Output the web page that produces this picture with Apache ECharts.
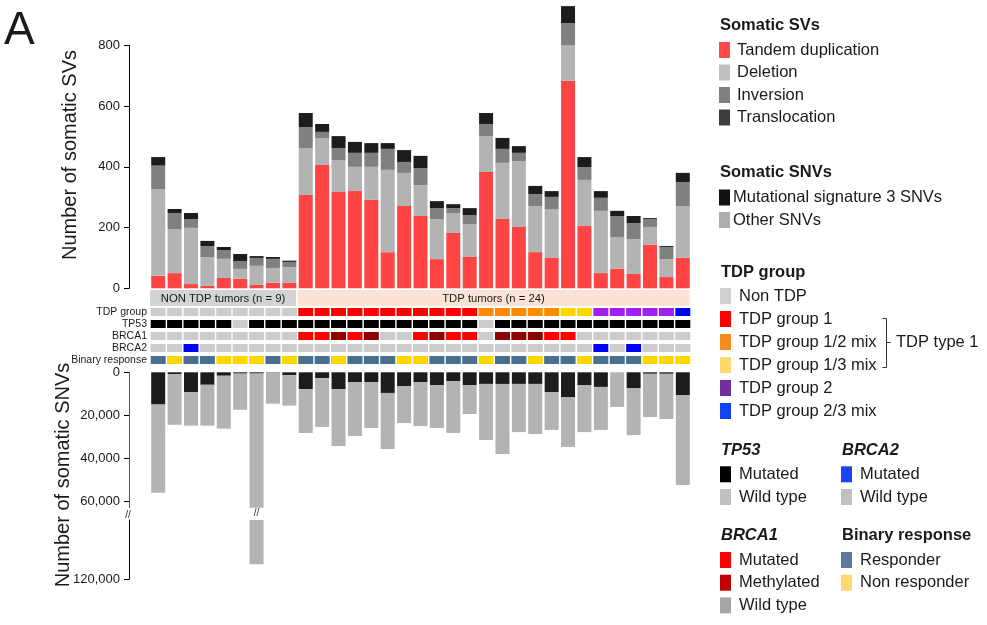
<!DOCTYPE html>
<html><head><meta charset="utf-8">
<script src="https://cdn.jsdelivr.net/npm/echarts@6/dist/echarts.min.js"></script>
<style>html,body{margin:0;padding:0;background:#fff}#c{width:987px;height:625px}</style>
</head><body><div id="c"></div>
<script>
// ---------- DATA ----------
const samples = ['P1','P2','P3','P4','P5','P6','P7','P8','P9','P10','P11','P12','P13','P14','P15','P16','P17','P18','P19','P20','P21','P22','P23','P24','P25','P26','P27','P28','P29','P30','P31','P32','P33'];

// Somatic SVs (counts)
const tandemDup     = [41,50,14,8,34,31,11,18,18,307,406,317,320,291,119,271,238,96,182,103,383,228,202,119,100,683,205,50,64,47,143,37,100];
const deletion      = [286,145,185,95,63,33,63,49,52,155,89,105,80,109,271,109,102,132,66,108,118,185,217,152,161,118,152,205,105,115,59,59,171];
const inversion     = [77,53,29,36,29,26,26,30,17,69,20,40,46,46,69,36,56,36,16,30,40,46,27,39,40,72,42,43,69,53,26,40,79];
const translocation = [28,13,20,17,10,23,6,6,4,46,26,39,36,32,19,39,40,23,13,23,36,36,22,27,19,56,33,22,17,23,3,3,30];

// Somatic SNVs (counts)
const snvSig3  = [15000,800,9200,5800,1600,600,600,200,1300,7800,2700,7800,4500,4500,9600,6400,4500,5900,4100,5900,5400,5400,5400,5400,9200,11500,5900,6800,0,7300,700,700,10600];
const snvOther = [41000,23600,15600,19000,24600,16800,112400,14400,14200,20400,22700,26500,25100,21400,26100,17200,20500,20000,24100,13500,26100,32600,22400,23300,17600,23200,21900,20000,16100,21900,20100,21000,41800];

// Axis ticks
const svTicks = [0,200,400,600,800];
const snvTicksUpper = [0,20000,40000,60000];
const snvTicksLower = [120000];
const snvBreakAt = 63000;       // top segment ends here
const snvLowerRange = [92400, 120000];

// Sample groups
const groupLabels = ['NON TDP tumors (n = 9)', 'TDP tumors (n = 24)'];
const groupStart  = [0, 9];
const groupEnd    = [8, 32];
const groupColors = ['#d3d3d3', '#fbe4d6'];

// Annotation tracks
const trackNames = ['TDP group','TP53','BRCA1','BRCA2','Binary response'];
const tdpGroup = ['Non TDP','Non TDP','Non TDP','Non TDP','Non TDP','Non TDP','Non TDP','Non TDP','Non TDP',
  'G1','G1','G1','G1','G1','G1','G1','G1','G1','G1','G1',
  'G12','G12','G12','G12','G12','G13','G13','G2','G2','G2','G2','G2','G23'];
const tp53 = ['M','M','M','M','M','W','M','M','M','M','M','M','M','M','M','M','M','M','M','M','W','M','M','M','M','M','M','M','M','M','M','M','M'];
const brca1 = ['W','W','W','W','W','W','W','W','W','Mut','Mut','Meth','Mut','Meth','W','W','Mut','Meth','Mut','Mut','W','Meth','Meth','Meth','Mut','Mut','W','W','W','W','W','W','W'];
const brca2 = ['W','W','Mut','W','W','W','W','W','W','W','W','W','W','W','W','W','W','W','W','W','W','W','W','W','W','W','W','Mut','W','Mut','W','W','W'];
const response = ['R','N','R','R','N','N','N','R','N','R','R','N','R','R','R','N','N','R','R','R','N','R','R','N','R','R','N','R','R','R','N','N','N'];

const trackColors = [
  {'Non TDP':'#cccccc','G1':'#ff0000','G12':'#ff8c00','G13':'#ffd700','G2':'#a020f0','G23':'#0000ff'},
  {'M':'#000000','W':'#cccccc'},
  {'Mut':'#ff0000','Meth':'#8b0000','W':'#cccccc'},
  {'Mut':'#0000ff','W':'#cccccc'},
  {'R':'#4a7090','N':'#ffd700'}
];
const tracks = [tdpGroup, tp53, brca1, brca2, response];

// ---------- CHART ----------
const FONT = '"Liberation Sans", Arial, Helvetica, sans-serif';
const TXT = '#1a1a1a';
const chart = echarts.init(document.getElementById('c'), null, {renderer:'canvas'});

const L = 150, W = 541;
const grids = [
  {left:L, width:W, top:45.3, height:243},     // SVs
  {left:L, width:W, top:290, height:16},       // group boxes
  {left:L, width:W, top:306, height:60},       // tracks
  {left:L, width:W, top:372.3, height:135.5},  // SNVs upper
  {left:L, width:W, top:520, height:59.3}      // SNVs lower
];
const xAxes = grids.map((g, i) => ({type:'category', gridIndex:i, data:samples, show:false}));

const fmt = v => Number(v).toLocaleString('en-US');
const valAxisBase = {
  offset:21,
  axisLine:{show:true, lineStyle:{color:'#000', width:1}},
  axisTick:{show:true, length:5, lineStyle:{color:'#000'}},
  axisLabel:{fontSize:13, color:TXT, fontFamily:FONT, margin:9},
  splitLine:{show:false}
};
const yAxes = [
  Object.assign({}, valAxisBase, {type:'value', gridIndex:0, min:0, max:800, interval:200,
    axisLabel:Object.assign({}, valAxisBase.axisLabel, {customValues:svTicks}),
    axisTick:Object.assign({}, valAxisBase.axisTick, {customValues:svTicks})}),
  {type:'value', gridIndex:1, min:0, max:1, show:false},
  {type:'category', gridIndex:2, data:trackNames, inverse:true,
    axisLine:{show:false}, axisTick:{show:false},
    axisLabel:{interval:0, fontSize:10.5, color:TXT, fontFamily:FONT, margin:3}},
  Object.assign({}, valAxisBase, {type:'value', gridIndex:3, min:0, max:snvBreakAt, inverse:true,
    axisLine:{show:true, lineStyle:{color:'#555', width:1}},
    axisLabel:Object.assign({}, valAxisBase.axisLabel, {customValues:snvTicksUpper, formatter:fmt}),
    axisTick:Object.assign({}, valAxisBase.axisTick, {customValues:snvTicksUpper})}),
  Object.assign({}, valAxisBase, {type:'value', gridIndex:4, min:snvLowerRange[0], max:snvLowerRange[1], inverse:true,
    axisLabel:Object.assign({}, valAxisBase.axisLabel, {customValues:snvTicksLower, formatter:fmt}),
    axisTick:Object.assign({}, valAxisBase.axisTick, {customValues:snvTicksLower})})
];

const svBar = (name, data, color) => ({name, type:'bar', stack:'sv', xAxisIndex:0, yAxisIndex:0,
  data, barWidth:14, clip:false, itemStyle:{color}, emphasis:{disabled:true}});

const snvTotal = snvSig3.map((v, i) => v + snvOther[i]);
const snvOtherUpper = snvOther.map((v, i) => Math.min(v, snvBreakAt - snvSig3[i]));
const snvLower = snvTotal.map(v => v > snvBreakAt ? v : '-');

// track cells
const trackData = [];
tracks.forEach((arr, r) => arr.forEach((code, i) => {
  trackData.push({value:[i, r], itemStyle:{color:trackColors[r][code]}});
}));

const groupData = groupLabels.map((lab, k) => ({value:[groupStart[k], groupEnd[k]], name:lab, itemStyle:{color:groupColors[k]}}));

const series = [
  svBar('Tandem duplication', tandemDup, '#ff4444'),
  svBar('Deletion', deletion, '#b3b3b3'),
  svBar('Inversion', inversion, '#808080'),
  svBar('Translocation', translocation, '#1c1c1c'),
  {type:'custom', xAxisIndex:1, yAxisIndex:1, data:groupData,
    renderItem(params, api) {
      const band = api.size([1, 0])[0];
      const p0 = api.coord([api.value(0), 1]);
      const p1 = api.coord([api.value(1), 0]);
      const x0 = p0[0] - band/2, x1 = p1[0] + band/2 - 1.5;
      return {type:'group', children:[
        {type:'rect', shape:{x:x0, y:p0[1], width:x1-x0, height:p1[1]-p0[1]}, style:{fill:api.visual('color')}},
        {type:'text', x:(x0+x1)/2, y:(p0[1]+p1[1])/2+0.5,
          style:{text:groupLabels[params.dataIndex], fill:TXT, fontSize:11.3, fontFamily:FONT, align:'center', verticalAlign:'middle'}}
      ]};
    }},
  {type:'custom', xAxisIndex:2, yAxisIndex:2, data:trackData,
    renderItem(params, api) {
      const c = api.coord([api.value(0), api.value(1)]);
      const s = api.size([1, 1]);
      const w = s[0] - 1.4, h = s[1] * 0.67;
      return {type:'rect', shape:{x:c[0]-w/2, y:c[1]-h/2, width:w, height:h}, style:{fill:api.visual('color')}};
    }},
  {name:'Mutational signature 3 SNVs', type:'bar', stack:'snv', xAxisIndex:3, yAxisIndex:3, data:snvSig3, barWidth:14, itemStyle:{color:'#1c1c1c'}},
  {name:'Other SNVs', type:'bar', stack:'snv', xAxisIndex:3, yAxisIndex:3, data:snvOtherUpper, barWidth:14, itemStyle:{color:'#b3b3b3'}},
  {name:'Other SNVs (cont.)', type:'bar', xAxisIndex:4, yAxisIndex:4, data:snvLower, barWidth:14, clip:true, itemStyle:{color:'#b3b3b3'}}
];

// ---------- LEGEND / LABELS (graphic) ----------
const g = [];
function text(x, y, t, o) {
  o = o || {};
  g.push({type:'text', x, y, rotation:o.rot||0, silent:true, style:{text:t, fill:o.fill||TXT, fontSize:o.size||16.5,
    fontFamily:FONT, fontWeight:o.weight||'normal', fontStyle:o.italic?'italic':'normal',
    align:o.align||'left', verticalAlign:'middle'}});
}
function swatch(x, y, color) {
  g.push({type:'rect', silent:true, shape:{x, y:y-8, width:11, height:16}, style:{fill:color}});
}
function section(x, headY, title, items, y0, step, textX, italic) {
  text(x + 1, headY, title, {weight:'bold', italic});
  items.forEach((it, k) => { const y = y0 + k*step; swatch(x, y, it[1]); text(textX, y, it[0]); });
}
section(719, 25, 'Somatic SVs', [['Tandem duplication','#ff4a4a'],['Deletion','#c0c0c0'],['Inversion','#7f7f7f'],['Translocation','#3c3c3c']], 50, 22.5, 737);
section(719, 172, 'Somatic SNVs', [['Mutational signature 3 SNVs','#111111'],['Other SNVs','#b0adad']], 197.5, 22.5, 733);
section(720, 272, 'TDP group', [['Non TDP','#d0d0d0'],['TDP group 1','#ff0000'],['TDP group 1/2 mix','#f48a20'],['TDP group 1/3 mix','#fed96f'],['TDP group 2','#7030a0'],['TDP group 2/3 mix','#1044f0']], 296, 23, 739);
section(720, 450, 'TP53', [['Mutated','#000000'],['Wild type','#c0c0c0']], 474.3, 22.7, 739, true);
section(841, 450, 'BRCA2', [['Mutated','#1a44f0'],['Wild type','#c0c0c0']], 474.3, 22.7, 860, true);
section(720, 535, 'BRCA1', [['Mutated','#ff0000'],['Methylated','#c00000'],['Wild type','#a6a6a6']], 560, 22.7, 739, true);
section(841, 535, 'Binary response', [['Responder','#60799a'],['Non responder','#fed96f']], 560, 22.7, 860);
// bracket for TDP type 1
g.push({type:'polyline', silent:true, shape:{points:[[882.5,318.5],[886.5,318.5],[886.5,367.5],[882.5,367.5]]}, style:{stroke:'#333', lineWidth:1, fill:null}});
g.push({type:'line', silent:true, shape:{x1:886.5, y1:342.5, x2:890.5, y2:342.5}, style:{stroke:'#333', lineWidth:1}});
text(896, 342, 'TDP type 1');
// panel letter and axis titles
text(4, 31, 'A', {size:46});
text(70, 155, 'Number of somatic SVs', {size:20, rot:Math.PI/2, align:'center'});
text(63, 475, 'Number of somatic SNVs', {size:20, rot:Math.PI/2, align:'center'});

chart.setOption({
  animation:false,
  backgroundColor:'#fff',
  textStyle:{fontFamily:FONT},
  grid:grids, xAxis:xAxes, yAxis:yAxes, series, graphic:g
});

// break marks on the SNV axis and the broken bar
const yUpperEnd = chart.convertToPixel({yAxisIndex:3}, snvBreakAt);
const yLowerStart = chart.convertToPixel({yAxisIndex:4}, snvLowerRange[0]);
const yBreak = (yUpperEnd + yLowerStart) / 2;
const axisX = L - 21;
const breaks = [{type:'text', silent:true, x:axisX - 1, y:yBreak + 1, style:{text:'//', fontSize:10, fontFamily:FONT, fill:'#333', align:'center', verticalAlign:'middle'}}];
snvLower.forEach((v, i) => {
  if (v !== '-') {
    const bx = chart.convertToPixel({xAxisIndex:3}, i);
    breaks.push({type:'text', silent:true, x:bx, y:yBreak - 1, style:{text:'//', fontSize:10, fontFamily:FONT, fill:'#333', align:'center', verticalAlign:'middle'}});
  }
});
chart.setOption({graphic:g.concat(breaks)});
</script>
</body></html>
